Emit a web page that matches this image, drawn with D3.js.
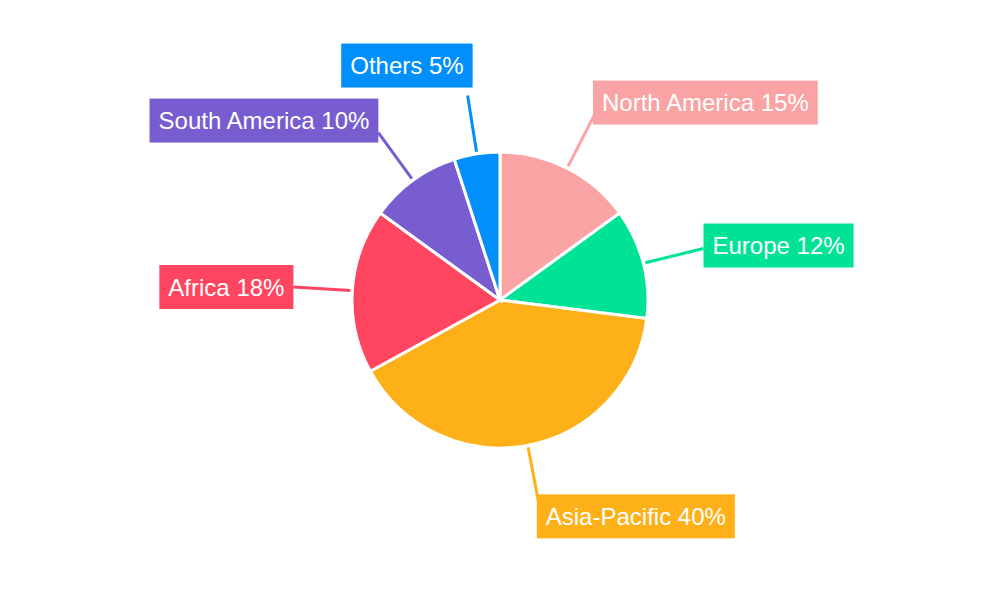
<!DOCTYPE html>
<html><head><meta charset="utf-8">
<script src="https://cdn.jsdelivr.net/npm/d3@7"></script>
<style>body{margin:0;background:#fff}</style></head>
<body><svg id="c" width="1000" height="600"></svg>
<script>
const categories = ["North America","Europe","Asia-Pacific","Africa","South America","Others"];
const values = [15,12,40,18,10,5];
const colors = ["#f9a3a4","#00e396","#feb019","#ff4560","#775dd0","#008ffb"];

const svg = d3.select("#c");
const cx = 500, cy = 300, R = 148;
const g = svg.append("g").attr("transform",`translate(${cx},${cy})`);
const data = categories.map((c,i)=>({name:c,value:values[i],color:colors[i]}));
const arcs = d3.pie().sort(null).value(d=>d.value)(data);
const arc = d3.arc().innerRadius(0).outerRadius(R);
g.selectAll("path.s").data(arcs).join("path").attr("class","s")
  .attr("d",arc).attr("fill",d=>d.data.color).attr("stroke","#fff").attr("stroke-width",3);

arcs.forEach(a=>{
  const m=(a.startAngle+a.endAngle)/2, s=Math.sin(m), c=-Math.cos(m);
  const p1=[150*s,150*c], p2=[207*s,207*c];
  const lab=`${a.data.name} ${a.data.value}%`;
  const t=g.append("text").text(lab).attr("font-family","Liberation Sans, Arial, sans-serif")
    .attr("font-size",24).attr("fill","#fff").attr("dominant-baseline","central");
  const w=t.node().getComputedTextLength()+18, h=44;
  let x,y;
  if(s>0.4){x=p2[0]+(c<-0.5?-1:3);y=p2[1]-h/2-(c<-0.5?13:3);}
  else if(s<-0.4){x=p2[0]-w;y=p2[1]-h/2-(c<-0.5?12:0);}
  else if(c>0){x=p2[0]-2;y=p2[1]-9;}
  else{x=p2[0]+5-w;y=p2[1]-h-8;}
  g.insert("line","text").attr("x1",p1[0]).attr("y1",p1[1]).attr("x2",x>p2[0]?x:p2[0]).attr("y2",p2[1])
    .attr("stroke",a.data.color).attr("stroke-width",3);
  g.insert("rect","text").attr("x",x).attr("y",y).attr("width",w).attr("height",h).attr("fill",a.data.color);
  t.attr("x",x+9).attr("y",y+h/2);
  t.raise();
});
</script></body></html>
